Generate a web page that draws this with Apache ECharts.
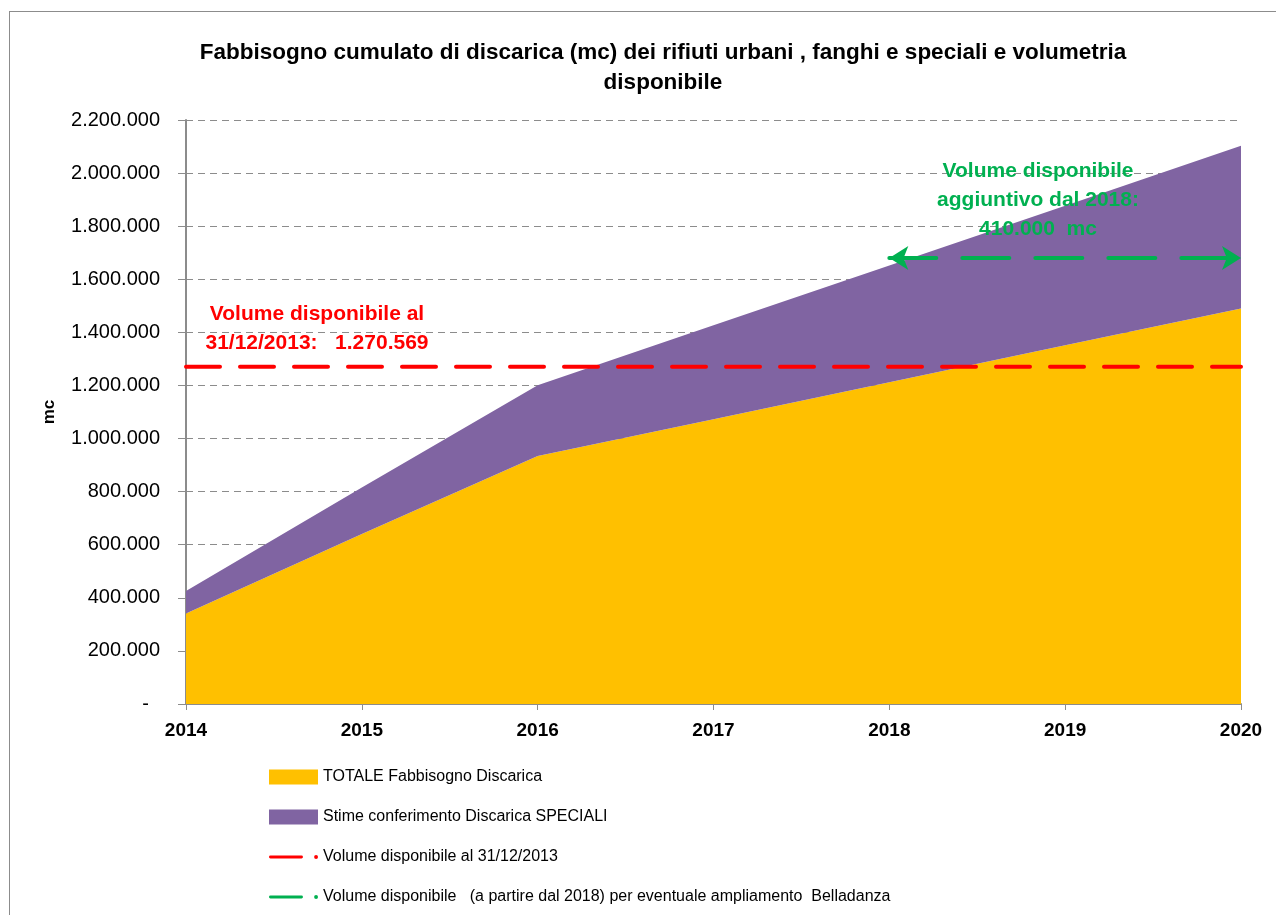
<!DOCTYPE html>
<html>
<head>
<meta charset="utf-8">
<script src="https://cdn.jsdelivr.net/npm/echarts@6/dist/echarts.min.js"></script>
<style>
  html, body { margin: 0; padding: 0; background: #fff; }
  #main { width: 1276px; height: 915px; position: relative; }
  .frame { position: absolute; left: 9px; top: 11px; width: 1300px; height: 950px; border: 1px solid #8c8c8c; box-sizing: border-box; pointer-events: none; }
</style>
</head>
<body>
<div id="main"></div>
<div class="frame"></div>
<script>
// anni
const years = ["2014", "2015", "2016", "2017", "2018", "2019", "2020"];
// fabbisogno cumulato (mc)
const totale = [341000, 640000, 934000, 1073000, 1212000, 1351000, 1490000];
const speciali = [85000, 176000, 267000, 354000, 440000, 526000, 613000];
// volumi disponibili
const volumeAl2013 = 1270569;
const aggiuntivo2018 = 410000;

const FONT = "'Liberation Sans', Arial, sans-serif";

function fmt(v) {
  if (v === 0) return "-  ";
  return String(v).replace(/\B(?=(\d{3})+(?!\d))/g, ".");
}

const redLine = years.map(() => volumeAl2013);
const greenLevel = volumeAl2013 + aggiuntivo2018;

// icona legenda stile Excel: trattino + puntino
const lineIcon = "path://M0,0 L0.01,0 L0.01,0.01 Z M0,15 L0.01,15 L0.01,14.99 Z " +
  "M0,6 L32,6 A1.5,1.5 0 0,1 32,9 L0,9 A1.5,1.5 0 0,1 0,6 Z " +
  "M45,7.5 A2,2 0 1,1 49,7.5 A2,2 0 1,1 45,7.5 Z";

const myChart = echarts.init(document.getElementById("main"));
myChart.setOption({
  animation: false,
  textStyle: { fontFamily: FONT },
  title: {
    text: "Fabbisogno cumulato di discarica (mc) dei rifiuti urbani , fanghi e speciali e volumetria\ndisponibile",
    left: 658,
    top: 33,
    textAlign: "center",
    textStyle: { fontFamily: FONT, fontSize: 22.5, fontWeight: "bold", color: "#000", lineHeight: 30 }
  },
  grid: { left: 186, right: 35, top: 120, bottom: 211, containLabel: false },
  legend: {
    orient: "vertical",
    left: 264,
    top: 764,
    height: 160,
    itemWidth: 49,
    itemHeight: 15,
    itemGap: 24,
    textStyle: { fontFamily: FONT, fontSize: 16, color: "#000" },
    data: [
      { name: "TOTALE Fabbisogno Discarica", icon: "rect" },
      { name: "Stime conferimento Discarica SPECIALI", icon: "rect" },
      { name: "Volume disponibile al 31/12/2013", icon: lineIcon },
      { name: "Volume disponibile   (a partire dal 2018) per eventuale ampliamento  Belladanza", icon: lineIcon }
    ]
  },
  xAxis: {
    type: "category",
    data: years,
    boundaryGap: false,
    axisLine: { lineStyle: { color: "#8c8c8c", width: 2 } },
    axisTick: { show: true, length: 6, lineStyle: { color: "#8c8c8c" } },
    axisLabel: { fontFamily: FONT, fontSize: 19, fontWeight: "bold", color: "#000", margin: 17 }
  },
  yAxis: {
    type: "value",
    min: 0,
    max: 2200000,
    interval: 200000,
    name: "mc",
    nameLocation: "middle",
    nameRotate: 90,
    nameGap: 128,
    nameTextStyle: { fontFamily: FONT, fontSize: 17, fontWeight: "bold", color: "#000" },
    axisLine: { show: true, lineStyle: { color: "#8c8c8c", width: 2 } },
    axisTick: { show: true, length: 8, lineStyle: { color: "#8c8c8c" } },
    axisLabel: { fontFamily: FONT, fontSize: 20, color: "#000", margin: 26, formatter: fmt },
    splitLine: { lineStyle: { color: "#8c8c8c", type: [7, 5], width: 1 } }
  },
  series: [
    {
      name: "TOTALE Fabbisogno Discarica",
      type: "line",
      stack: "tot",
      data: totale,
      symbol: "none",
      color: "#FFC000",
      lineStyle: { width: 0 },
      areaStyle: { color: "#FFC000", opacity: 1 }
    },
    {
      name: "Stime conferimento Discarica SPECIALI",
      type: "line",
      stack: "tot",
      data: speciali,
      symbol: "none",
      color: "#8064A2",
      lineStyle: { width: 0 },
      areaStyle: { color: "#8064A2", opacity: 1 }
    },
    {
      name: "Volume disponibile al 31/12/2013",
      type: "line",
      data: redLine,
      symbol: "none",
      color: "#FF0000",
      z: 5,
      lineStyle: { color: "#FF0000", width: 4, type: [34, 20], cap: "round" }
    },
    {
      name: "Volume disponibile   (a partire dal 2018) per eventuale ampliamento  Belladanza",
      type: "line",
      data: [],
      symbol: "none",
      color: "#00B050",
      z: 5,
      lineStyle: { color: "#00B050", width: 4, type: [47, 26], cap: "round" },
      markLine: {
        silent: true,
        symbol: ["arrow", "arrow"],
        symbolSize: [18, 19],
        label: { show: false },
        lineStyle: { color: "#00B050", width: 4, type: [47, 26], cap: "round" },
        data: [[{ coord: ["2018", greenLevel] }, { coord: ["2020", greenLevel] }]]
      }
    }
  ],
  graphic: [
    {
      type: "text",
      x: 317,
      y: 300,
      z: 10,
      style: {
        text: "Volume disponibile al\n31/12/2013:   1.270.569",
        fill: "#FF0000",
        font: "bold 21px " + FONT,
        align: "center",
        verticalAlign: "top",
        lineHeight: 29
      }
    },
    {
      type: "text",
      x: 1038,
      y: 157,
      z: 10,
      style: {
        text: "Volume disponibile\naggiuntivo dal 2018:\n410.000  mc",
        fill: "#00B050",
        font: "bold 21px " + FONT,
        align: "center",
        verticalAlign: "top",
        lineHeight: 29
      }
    }
  ]
});
</script>
</body>
</html>
